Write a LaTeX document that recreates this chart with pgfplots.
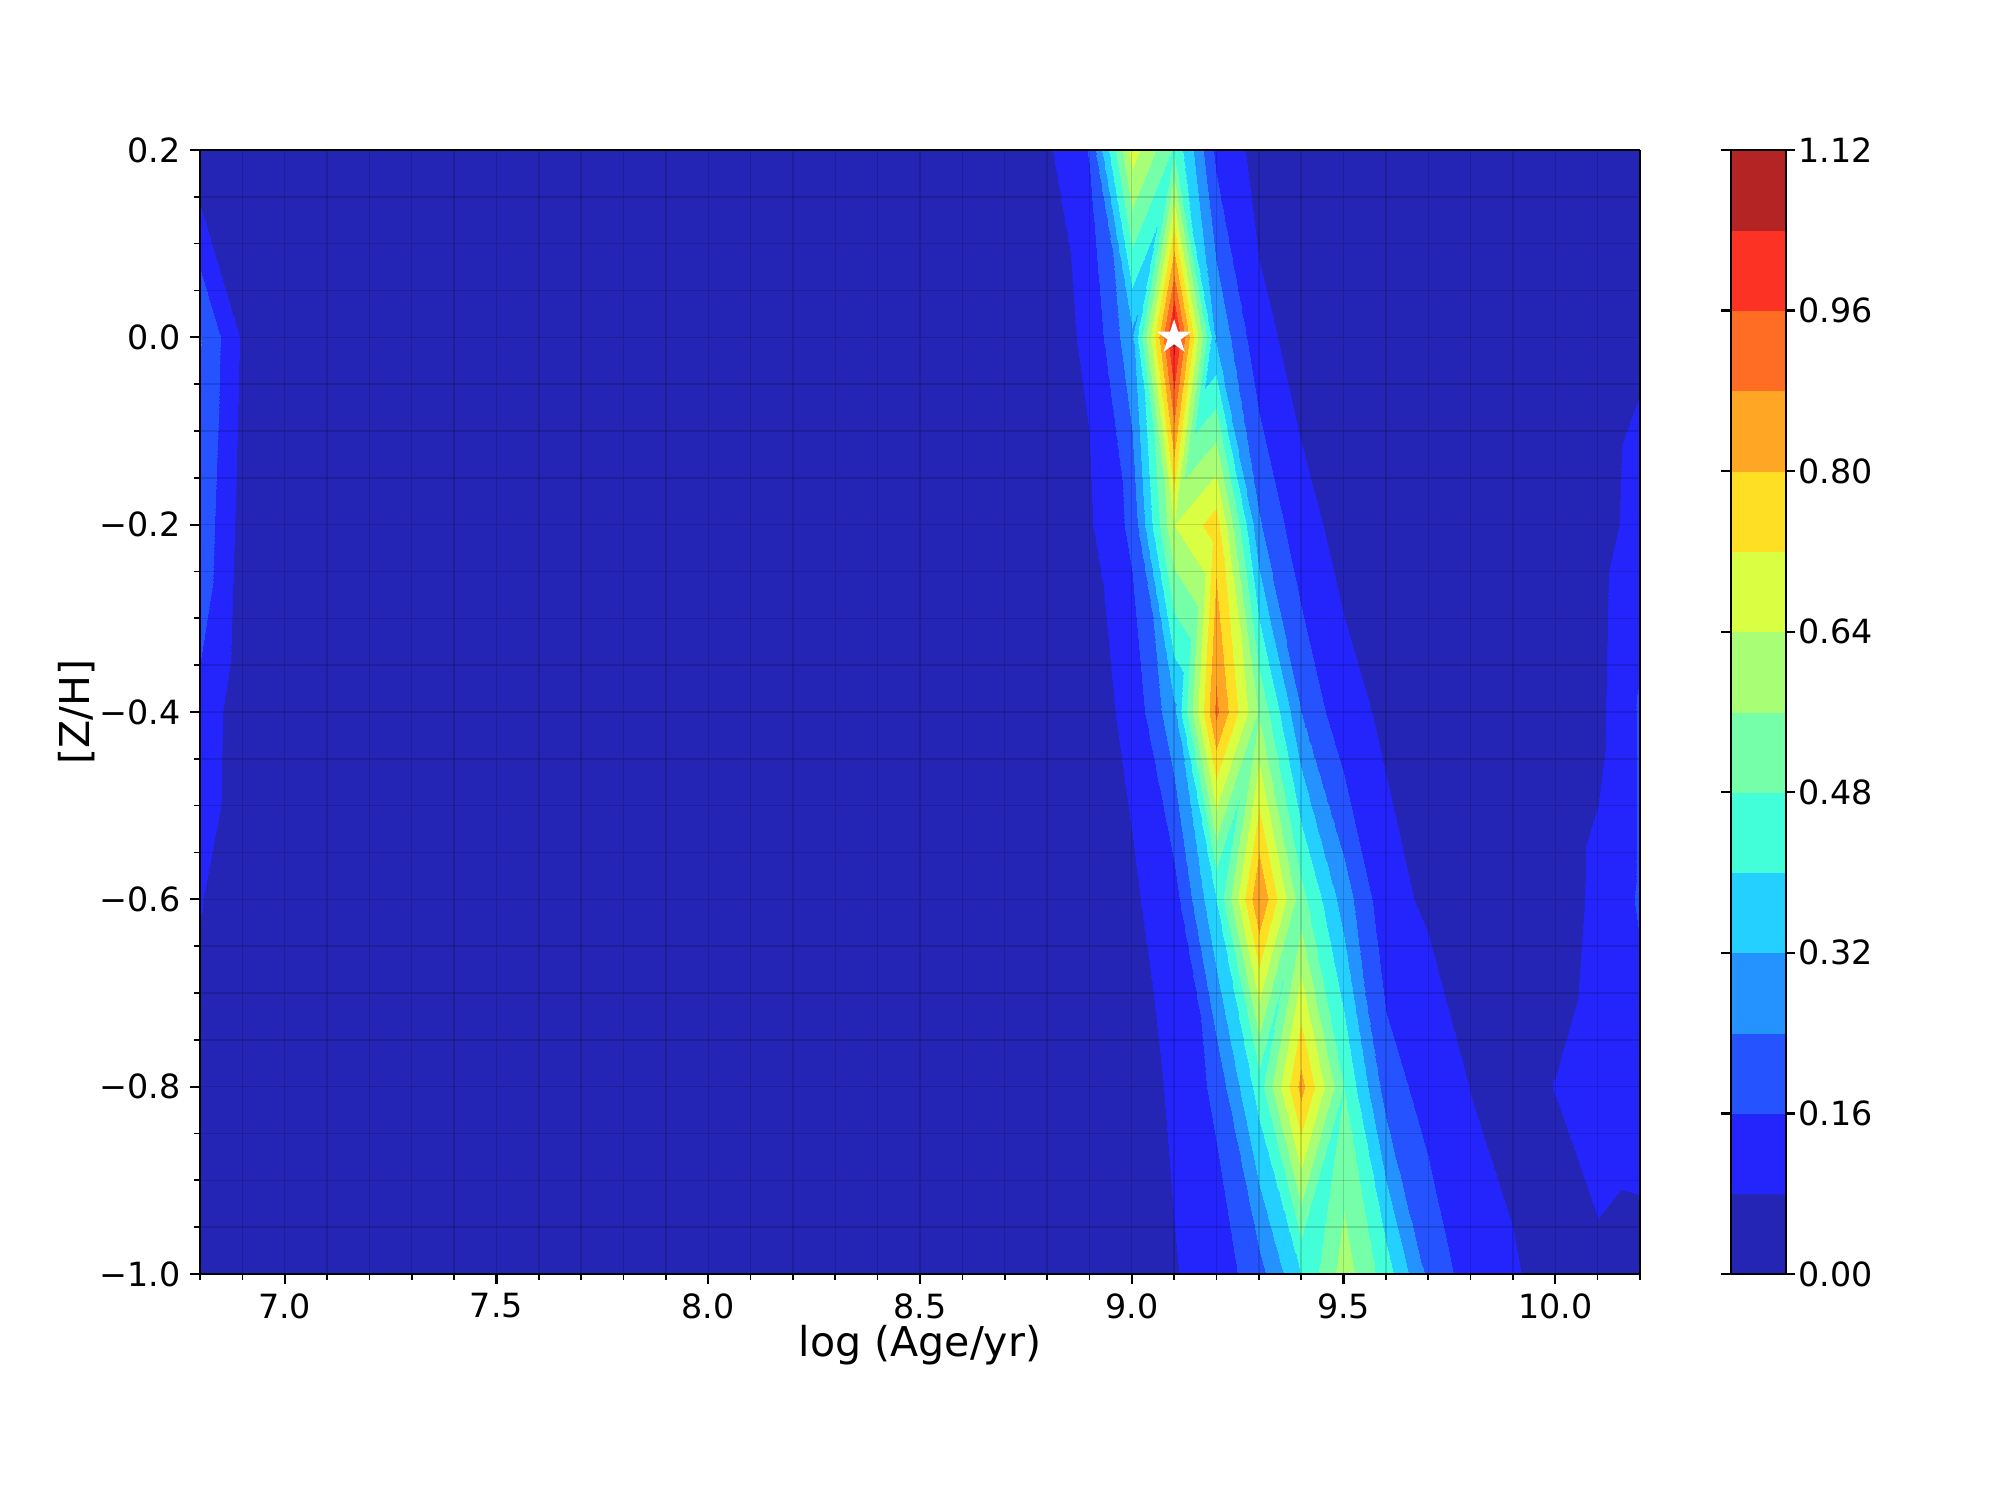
\documentclass[border=0pt]{standalone}
\usepackage{fontspec}
\setmainfont{DejaVu Sans}
\usepackage{pgfplots}
\pgfplotsset{compat=1.18}

% filled five-pointed star
\pgfdeclareplotmark{fstar}{%
  \pgfpathmoveto{\pgfpointpolar{90}{\pgfplotmarksize}}%
  \pgfpathlineto{\pgfpointpolar{126}{0.382\pgfplotmarksize}}%
  \pgfpathlineto{\pgfpointpolar{162}{\pgfplotmarksize}}%
  \pgfpathlineto{\pgfpointpolar{198}{0.382\pgfplotmarksize}}%
  \pgfpathlineto{\pgfpointpolar{234}{\pgfplotmarksize}}%
  \pgfpathlineto{\pgfpointpolar{270}{0.382\pgfplotmarksize}}%
  \pgfpathlineto{\pgfpointpolar{306}{\pgfplotmarksize}}%
  \pgfpathlineto{\pgfpointpolar{342}{0.382\pgfplotmarksize}}%
  \pgfpathlineto{\pgfpointpolar{18}{\pgfplotmarksize}}%
  \pgfpathlineto{\pgfpointpolar{54}{0.382\pgfplotmarksize}}%
  \pgfpathclose
  \pgfusepathqfill
}

\begin{document}
\begin{tikzpicture}
\begin{axis}[
  name=main,
  view={0}{90},
  scale only axis, width=518.4pt, height=404.64pt,
  xmin=6.8, xmax=10.2, ymin=-1, ymax=0.2,
  enlargelimits=false,
  axis on top,
  xtick={7,7.5,8,8.5,9,9.5,10},
  xticklabels={7.0,7.5,8.0,8.5,9.0,9.5,10.0},
  ytick={-1,-0.8,-0.6,-0.4,-0.2,0,0.2},
  yticklabels={−1.0,−0.8,−0.6,−0.4,−0.2,0.0,0.2},
  minor xtick={6.8,6.9,...,10.25},
  minor ytick={-1,-0.95,...,0.21},
  xminorgrids, yminorgrids,
  minor grid style={black, opacity=0.15, line width=0.5pt},
  tick align=outside, tick pos=left,
  major tick length=3.5pt, minor tick length=2pt,
  every tick/.style={black, line width=0.8pt},
  every minor tick/.style={black, line width=0.6pt},
  axis line style={line width=0.8pt},
  ticklabel style={font=\fontsize{12}{14}\selectfont},
  colormap={jetc}{rgb255=(36,36,181) rgb255=(36,36,252) rgb255=(36,83,255)
    rgb255=(36,146,255) rgb255=(36,208,255) rgb255=(66,255,218)
    rgb255=(117,255,168) rgb255=(168,255,117) rgb255=(218,255,66)
    rgb255=(255,223,36) rgb255=(255,166,36) rgb255=(255,108,36)
    rgb255=(252,50,36) rgb255=(181,36,36)},
  colormap access=piecewise constant,
  point meta min=0, point meta max=1.12,
  colorbar,
  colorbar style={
    width=19.8pt,
    at={(parent axis.north east)}, anchor=north west, xshift=24.1pt,
    ytick={0,0.16,0.32,0.48,0.64,0.8,0.96,1.12},
    yticklabels={0.00,0.16,0.32,0.48,0.64,0.80,0.96,1.12},
    yticklabel style={font=\fontsize{12}{14}\selectfont, xshift=-2.5pt},
    tick align=outside, major tick length=3.5pt,
    every tick/.style={black, line width=0.8pt},
    axis line style={line width=0.8pt},
    colormap access=piecewise constant,
  },
]
% weight grid, scanlines from [Z/H]=-1.0 up to 0.2
\addplot3[surf, shader=interp, mesh/cols=35] coordinates {
(6.8,-1,0.01) (6.9,-1,0.01) (7.0,-1,0.01) (7.1,-1,0.01) (7.2,-1,0.01) (7.3,-1,0.01) (7.4,-1,0.01) (7.5,-1,0.01) (7.6,-1,0.01) (7.7,-1,0.01) (7.8,-1,0.01) (7.9,-1,0.01) (8.0,-1,0.01) (8.1,-1,0.01) (8.2,-1,0.01) (8.3,-1,0.01) (8.4,-1,0.01) (8.5,-1,0.01) (8.6,-1,0.01) (8.7,-1,0.01) (8.8,-1,0.01) (8.9,-1,0.02) (9.0,-1,0.04) (9.1,-1,0.076) (9.2,-1,0.11) (9.3,-1,0.21) (9.4,-1,0.40) (9.5,-1,0.60) (9.6,-1,0.44) (9.7,-1,0.22) (9.8,-1,0.12) (9.9,-1,0.09) (10.0,-1,0.04) (10.1,-1,0.063) (10.2,-1,0.047)
(6.8,-0.8,0.03) (6.9,-0.8,0.01) (7.0,-0.8,0.01) (7.1,-0.8,0.01) (7.2,-0.8,0.01) (7.3,-0.8,0.01) (7.4,-0.8,0.01) (7.5,-0.8,0.01) (7.6,-0.8,0.01) (7.7,-0.8,0.01) (7.8,-0.8,0.01) (7.9,-0.8,0.01) (8.0,-0.8,0.01) (8.1,-0.8,0.01) (8.2,-0.8,0.01) (8.3,-0.8,0.01) (8.4,-0.8,0.01) (8.5,-0.8,0.01) (8.6,-0.8,0.01) (8.7,-0.8,0.01) (8.8,-0.8,0.01) (8.9,-0.8,0.02) (9.0,-0.8,0.05) (9.1,-0.8,0.09) (9.2,-0.8,0.18) (9.3,-0.8,0.44) (9.4,-0.8,0.83) (9.5,-0.8,0.48) (9.6,-0.8,0.20) (9.7,-0.8,0.125) (9.8,-0.8,0.078) (9.9,-0.8,0.05) (10.0,-0.8,0.082) (10.1,-0.8,0.12) (10.2,-0.8,0.125)
(6.8,-0.6,0.085) (6.9,-0.6,0.02) (7.0,-0.6,0.01) (7.1,-0.6,0.01) (7.2,-0.6,0.01) (7.3,-0.6,0.01) (7.4,-0.6,0.01) (7.5,-0.6,0.01) (7.6,-0.6,0.01) (7.7,-0.6,0.01) (7.8,-0.6,0.01) (7.9,-0.6,0.01) (8.0,-0.6,0.01) (8.1,-0.6,0.01) (8.2,-0.6,0.01) (8.3,-0.6,0.01) (8.4,-0.6,0.01) (8.5,-0.6,0.01) (8.6,-0.6,0.01) (8.7,-0.6,0.01) (8.8,-0.6,0.01) (8.9,-0.6,0.04) (9.0,-0.6,0.069) (9.1,-0.6,0.125) (9.2,-0.6,0.40) (9.3,-0.6,0.88) (9.4,-0.6,0.51) (9.5,-0.6,0.28) (9.6,-0.6,0.10) (9.7,-0.6,0.07) (9.8,-0.6,0.05) (9.9,-0.6,0.03) (10.0,-0.6,0.035) (10.1,-0.6,0.10) (10.2,-0.6,0.17)
(6.8,-0.4,0.14) (6.9,-0.4,0.029) (7.0,-0.4,0.02) (7.1,-0.4,0.01) (7.2,-0.4,0.01) (7.3,-0.4,0.01) (7.4,-0.4,0.01) (7.5,-0.4,0.01) (7.6,-0.4,0.01) (7.7,-0.4,0.01) (7.8,-0.4,0.01) (7.9,-0.4,0.01) (8.0,-0.4,0.01) (8.1,-0.4,0.01) (8.2,-0.4,0.01) (8.3,-0.4,0.01) (8.4,-0.4,0.01) (8.5,-0.4,0.01) (8.6,-0.4,0.01) (8.7,-0.4,0.01) (8.8,-0.4,0.03) (8.9,-0.4,0.049) (9.0,-0.4,0.10) (9.1,-0.4,0.30) (9.2,-0.4,0.90) (9.3,-0.4,0.55) (9.4,-0.4,0.24) (9.5,-0.4,0.10) (9.6,-0.4,0.07) (9.7,-0.4,0.05) (9.8,-0.4,0.03) (9.9,-0.4,0.02) (10.0,-0.4,0.03) (10.1,-0.4,0.06) (10.2,-0.4,0.17)
(6.8,-0.2,0.218) (6.9,-0.2,0.051) (7.0,-0.2,0.03) (7.1,-0.2,0.01) (7.2,-0.2,0.01) (7.3,-0.2,0.01) (7.4,-0.2,0.01) (7.5,-0.2,0.01) (7.6,-0.2,0.01) (7.7,-0.2,0.01) (7.8,-0.2,0.01) (7.9,-0.2,0.01) (8.0,-0.2,0.01) (8.1,-0.2,0.01) (8.2,-0.2,0.01) (8.3,-0.2,0.01) (8.4,-0.2,0.01) (8.5,-0.2,0.01) (8.6,-0.2,0.01) (8.7,-0.2,0.02) (8.8,-0.2,0.04) (8.9,-0.2,0.07) (9.0,-0.2,0.18) (9.1,-0.2,0.64) (9.2,-0.2,0.76) (9.3,-0.2,0.25) (9.4,-0.2,0.10) (9.5,-0.2,0.061) (9.6,-0.2,0.04) (9.7,-0.2,0.02) (9.8,-0.2,0.02) (9.9,-0.2,0.02) (10.0,-0.2,0.02) (10.1,-0.2,0.05) (10.2,-0.2,0.11)
(6.8,0,0.245) (6.9,0,0.07) (7.0,0,0.03) (7.1,0,0.01) (7.2,0,0.01) (7.3,0,0.01) (7.4,0,0.01) (7.5,0,0.01) (7.6,0,0.01) (7.7,0,0.01) (7.8,0,0.01) (7.9,0,0.01) (8.0,0,0.01) (8.1,0,0.01) (8.2,0,0.01) (8.3,0,0.01) (8.4,0,0.01) (8.5,0,0.01) (8.6,0,0.01) (8.7,0,0.03) (8.8,0,0.057) (8.9,0,0.09) (9.0,0,0.30) (9.1,0,1.08) (9.2,0,0.31) (9.3,0,0.10) (9.4,0,0.055) (9.5,0,0.03) (9.6,0,0.01) (9.7,0,0.01) (9.8,0,0.01) (9.9,0,0.01) (10.0,0,0.01) (10.1,0,0.04) (10.2,0,0.067)
(6.8,0.2,0.013) (6.9,0.2,0.01) (7.0,0.2,0.01) (7.1,0.2,0.01) (7.2,0.2,0.01) (7.3,0.2,0.01) (7.4,0.2,0.01) (7.5,0.2,0.01) (7.6,0.2,0.01) (7.7,0.2,0.01) (7.8,0.2,0.01) (7.9,0.2,0.01) (8.0,0.2,0.01) (8.1,0.2,0.01) (8.2,0.2,0.01) (8.3,0.2,0.01) (8.4,0.2,0.01) (8.5,0.2,0.01) (8.6,0.2,0.01) (8.7,0.2,0.03) (8.8,0.2,0.067) (8.9,0.2,0.165) (9.0,0.2,0.68) (9.1,0.2,0.47) (9.2,0.2,0.14) (9.3,0.2,0.052) (9.4,0.2,0.03) (9.5,0.2,0.02) (9.6,0.2,0.01) (9.7,0.2,0.01) (9.8,0.2,0.01) (9.9,0.2,0.01) (10.0,0.2,0.01) (10.1,0.2,0.01) (10.2,0.2,0.04)
};
% cells next to the peaks, split along the other diagonal (same grid values)
\addplot3[patch, shader=interp, point meta=z] coordinates {
(9.0,0.2,0.68) (9.1,0.2,0.47) (9.0,0,0.30)
(9.1,0.2,0.47) (9.0,0,0.30) (9.1,0,1.08)
(9.1,0,1.08) (9.2,0,0.31) (9.1,-0.2,0.64)
(9.2,0,0.31) (9.1,-0.2,0.64) (9.2,-0.2,0.76)
(9.1,-0.2,0.64) (9.2,-0.2,0.76) (9.1,-0.4,0.30)
(9.2,-0.2,0.76) (9.1,-0.4,0.30) (9.2,-0.4,0.90)
(9.2,-0.4,0.90) (9.3,-0.4,0.55) (9.2,-0.6,0.40)
(9.3,-0.4,0.55) (9.2,-0.6,0.40) (9.3,-0.6,0.88)
(9.3,-0.6,0.88) (9.4,-0.6,0.51) (9.3,-0.8,0.44)
(9.4,-0.6,0.51) (9.3,-0.8,0.44) (9.4,-0.8,0.83)
(9.4,-0.8,0.83) (9.5,-0.8,0.48) (9.4,-1,0.40)
(9.5,-0.8,0.48) (9.4,-1,0.40) (9.5,-1,0.60)
};
\addplot3[only marks, mark=fstar, mark size=6.5pt, color=white] coordinates {(9.1,0,1.2)};
\end{axis}
\node[anchor=north, inner sep=0pt, font=\fontsize{14.8}{17}\selectfont] at ([yshift=-18.3pt]main.south) {log (Age/yr)};
\node[rotate=90, inner sep=0pt, font=\fontsize{14.8}{17}\selectfont] at ([xshift=-44.3pt]main.west) {[Z/H]};
\path ([shift={(-72pt,-81.36pt)}]main.south west) rectangle ([shift={(648pt,458.64pt)}]main.south west);
\end{tikzpicture}
\end{document}
